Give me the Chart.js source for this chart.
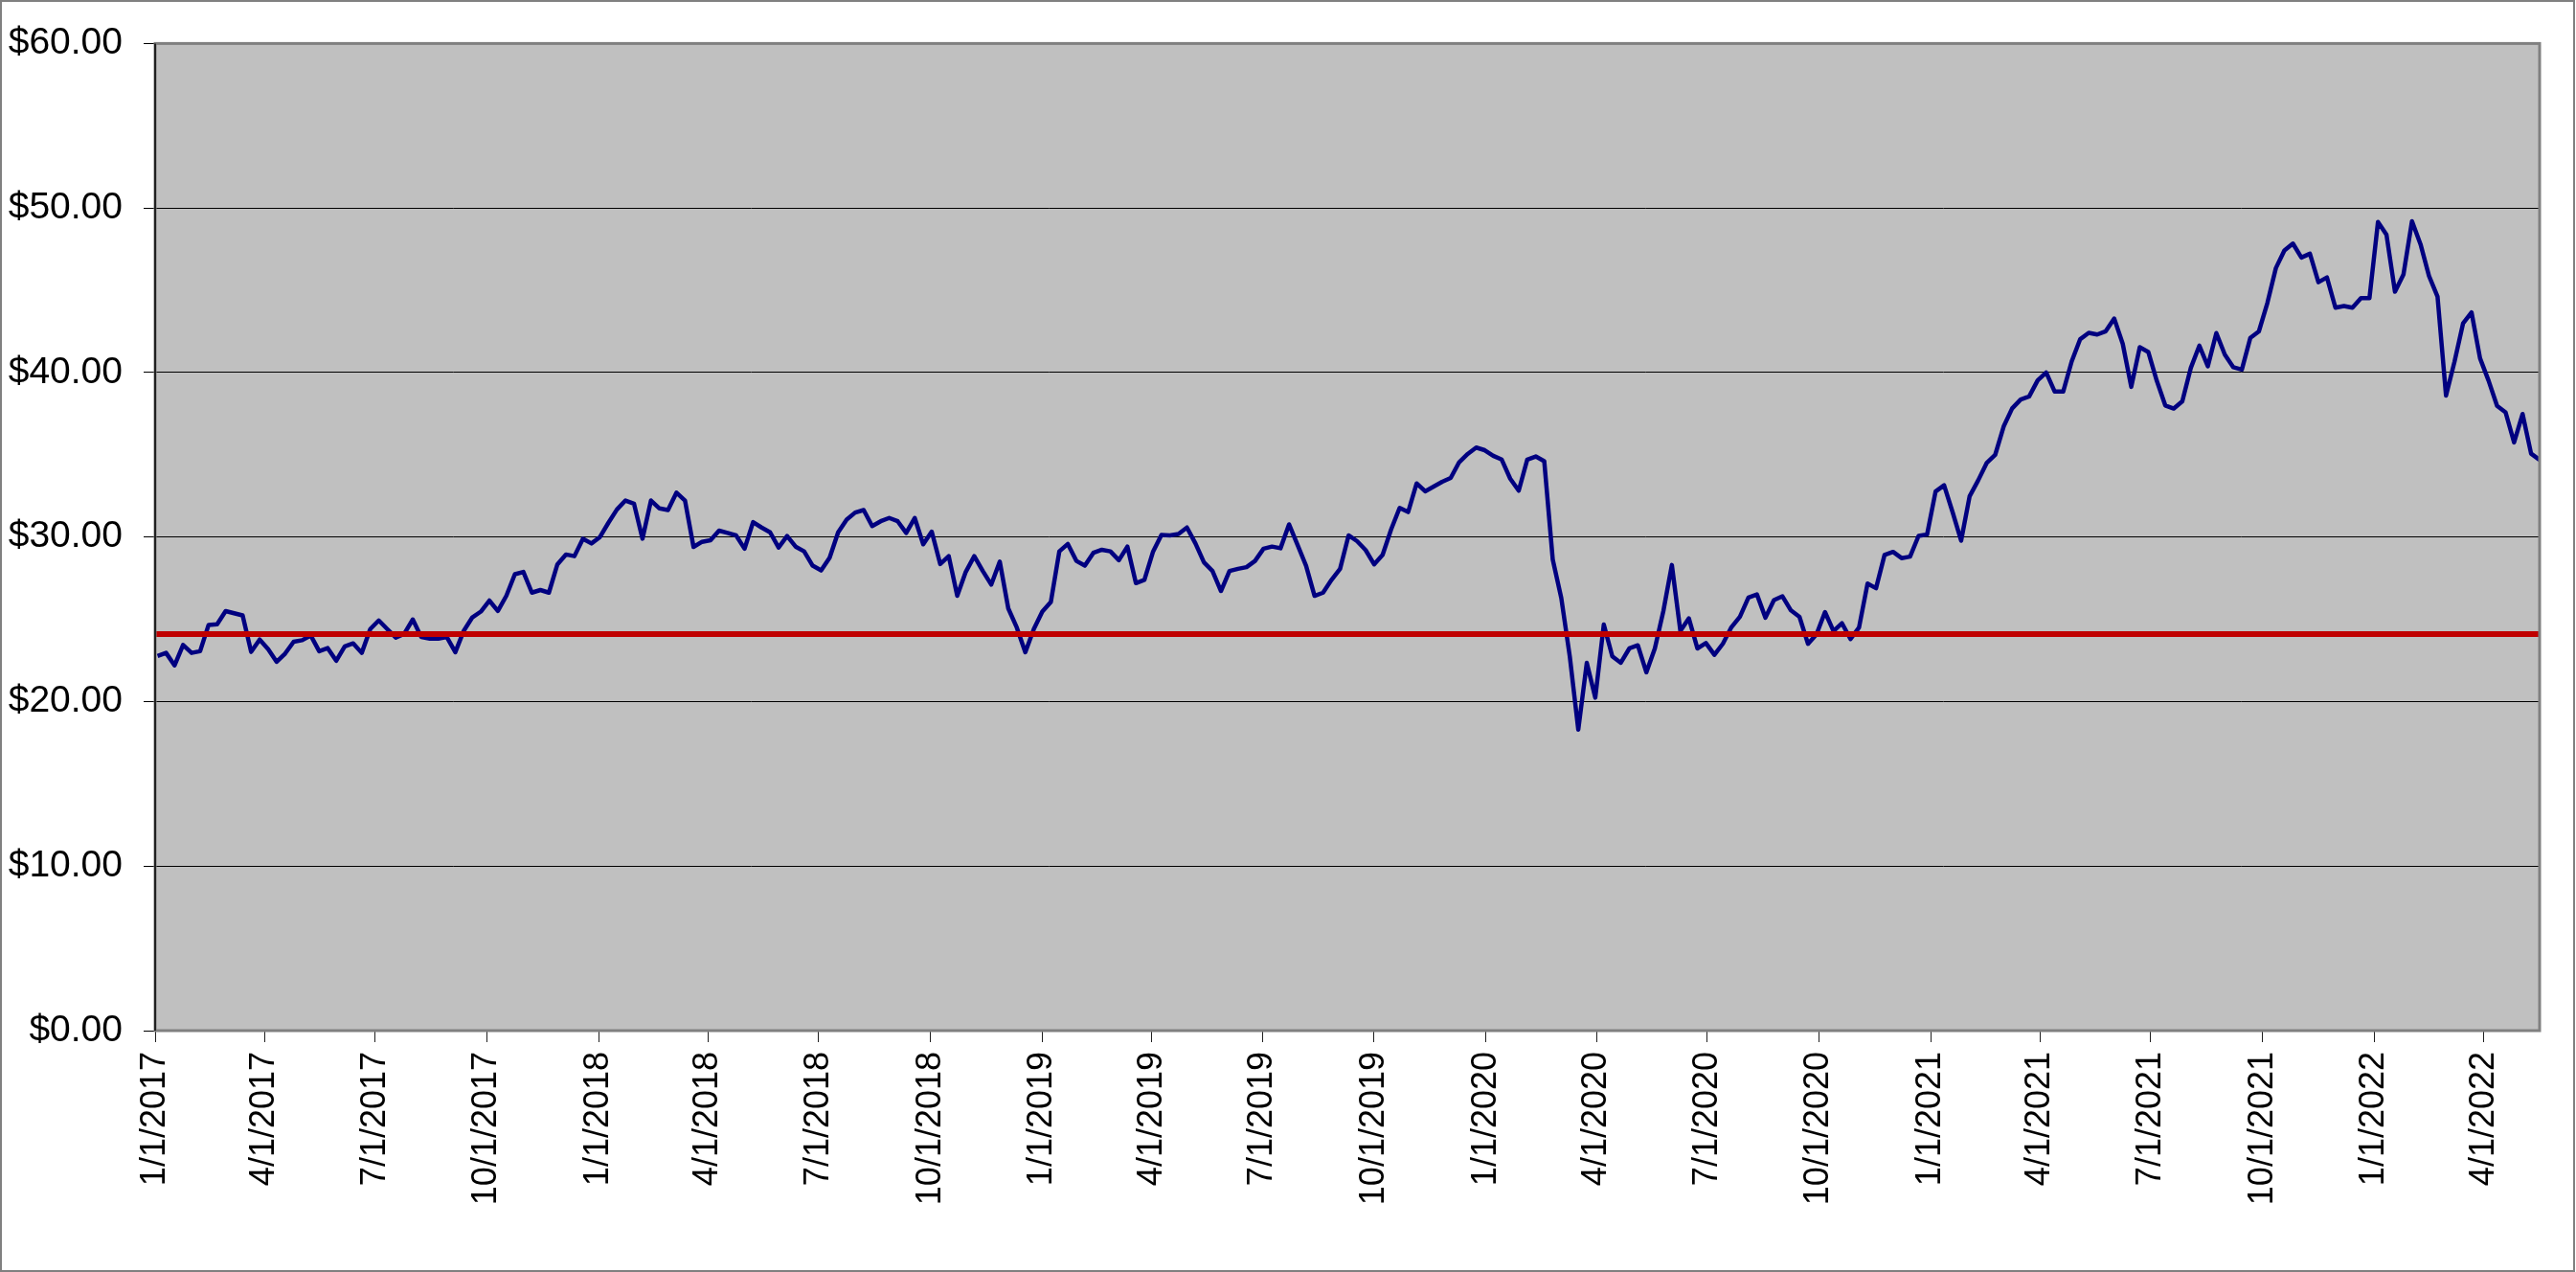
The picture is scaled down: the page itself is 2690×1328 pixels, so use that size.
<!DOCTYPE html>
<html>
<head>
<meta charset="utf-8">
<title>Share price 2017 - 2022</title>
<script src="https://cdn.jsdelivr.net/npm/chart.js@4.4.1/dist/chart.umd.min.js"></script>
<style>
  html, body { margin: 0; padding: 0; background: #fff; }
  canvas { display: block; }
</style>
</head>
<body>
<canvas id="priceChart" width="2690" height="1328"></canvas>
<script>
// Weekly closing prices, one value per week, first week starting on firstWeek
const firstWeek = '2017-01-03';

const close2017 = [
  22.77, 22.96, 22.2, 23.44, 22.96, 23.06, 24.66, 24.7, 25.5, 25.37, 25.24, 23.02, 23.77,
  23.19, 22.42, 22.92, 23.64, 23.73, 24.02, 23.06, 23.25, 22.48, 23.35, 23.54, 22.96, 24.41,
  24.93, 24.41, 23.89, 24.12, 24.99, 23.92, 23.83, 23.83, 23.92, 23.0, 24.31, 25.12, 25.47,
  26.14, 25.51, 26.43, 27.74, 27.88, 26.62, 26.78, 26.62, 28.34, 28.94, 28.84, 29.9, 29.61
];
const close2018 = [
  30.0, 30.87, 31.68, 32.22, 32.03, 29.9, 32.22, 31.74, 31.64, 32.7, 32.22, 29.4, 29.71,
  29.81, 30.39, 30.25, 30.1, 29.29, 30.91, 30.58, 30.29, 29.36, 30.06, 29.42, 29.13, 28.26,
  27.97, 28.75, 30.29, 31.06, 31.49, 31.64, 30.67, 30.96, 31.16, 30.96, 30.25, 31.16, 29.56,
  30.33, 28.36, 28.84, 26.43, 27.88, 28.84, 27.94, 27.11, 28.51, 25.66, 24.5, 23.0, 24.41
];
const close2019 = [
  25.47, 26.05, 29.13, 29.58, 28.55, 28.26, 29.04, 29.23, 29.13, 28.59, 29.42, 27.2, 27.4,
  29.09, 30.13, 30.1, 30.19, 30.58, 29.61, 28.46, 27.94, 26.72, 27.94, 28.07, 28.17, 28.55,
  29.29, 29.42, 29.32, 30.77, 29.52, 28.26, 26.43, 26.62, 27.4, 28.07, 30.1, 29.75, 29.21,
  28.34, 28.92, 30.46, 31.77, 31.52, 33.26, 32.78, 33.07, 33.36, 33.59, 34.55, 35.05, 35.44,
  35.28
];
const close2020 = [
  34.94, 34.71, 33.55, 32.82, 34.71, 34.9, 34.61, 28.63, 26.3, 22.75, 18.3, 22.36, 20.24,
  24.68, 22.75, 22.36, 23.23, 23.42, 21.78, 23.23, 25.5, 28.3, 24.29, 25.06, 23.23, 23.56,
  22.84, 23.52, 24.52, 25.16, 26.32, 26.51, 25.1, 26.17, 26.4, 25.54, 25.15, 23.51, 24.09,
  25.44, 24.28, 24.76, 23.8, 24.5, 27.17, 26.89, 28.91, 29.1, 28.72, 28.81, 30.07, 30.16
];
const close2021 = [
  32.77, 33.15, 31.51, 29.78, 32.48, 33.44, 34.5, 34.99, 36.72, 37.82, 38.36, 38.55, 39.52,
  40.0, 38.84, 38.84, 40.68, 42.03, 42.41, 42.31, 42.51, 43.28, 41.74, 39.13, 41.54, 41.25,
  39.5, 38.0, 37.81, 38.25, 40.28, 41.63, 40.38, 42.4, 41.09, 40.32, 40.18, 42.11, 42.5,
  44.23, 46.35, 47.42, 47.84, 46.99, 47.22, 45.49, 45.78, 43.94, 44.04, 43.94, 44.52, 44.52
];
const close2022 = [
  49.15, 48.38, 44.91, 45.97, 49.2, 47.8, 45.87, 44.62, 38.6, 40.67, 42.98, 43.65, 40.86,
  39.51, 37.97, 37.58, 35.75, 37.48, 35.07, 34.69
];

// Horizontal reference price (red line)
const referenceLevel = 24.1;

// Axis tick labels
const quarterLabels = [
  '1/1/2017', '4/1/2017', '7/1/2017', '10/1/2017',
  '1/1/2018', '4/1/2018', '7/1/2018', '10/1/2018',
  '1/1/2019', '4/1/2019', '7/1/2019', '10/1/2019',
  '1/1/2020', '4/1/2020', '7/1/2020', '10/1/2020',
  '1/1/2021', '4/1/2021', '7/1/2021', '10/1/2021',
  '1/1/2022', '4/1/2022'
];
const priceTicks = [0, 10, 20, 30, 40, 50, 60];

// --- date helpers (x axis is days since 1/1/2017) ---
const DAY_MS = 86400000;
const ORIGIN = Date.UTC(2017, 0, 1);

function isoToDay(s) {
  const [y, m, d] = s.split('-').map(Number);
  return Math.round((Date.UTC(y, m - 1, d) - ORIGIN) / DAY_MS);
}

function usToDay(s) {
  const [m, d, y] = s.split('/').map(Number);
  return Math.round((Date.UTC(y, m - 1, d) - ORIGIN) / DAY_MS);
}

const weeklyClose = [].concat(close2017, close2018, close2019, close2020, close2021, close2022);
const startDay = isoToDay(firstWeek);
const pricePoints = weeklyClose.map((v, i) => ({ x: startDay + 7 * i, y: v }));
const lastDay = pricePoints[pricePoints.length - 1].x;

const tickDays = quarterLabels.map(usToDay);
const labelByDay = {};
quarterLabels.forEach((lbl, i) => { labelByDay[tickDays[i]] = lbl; });

// Plot background, plot frame and outer border
const chartFrame = {
  id: 'chartFrame',
  beforeDraw(chart) {
    const { ctx, chartArea: a } = chart;
    ctx.save();
    ctx.fillStyle = '#ffffff';
    ctx.fillRect(0, 0, chart.width, chart.height);
    ctx.fillStyle = '#c0c0c0';
    ctx.fillRect(a.left, a.top, a.right - a.left, a.bottom - a.top);
    ctx.restore();
  },
  afterDraw(chart) {
    const { ctx, chartArea: a } = chart;
    ctx.save();
    // plot area frame
    ctx.strokeStyle = '#808080';
    ctx.lineWidth = 3;
    ctx.strokeRect(a.left, a.top, a.right - a.left, a.bottom - a.top);
    // value axis line
    ctx.strokeStyle = '#202020';
    ctx.lineWidth = 2;
    ctx.beginPath();
    ctx.moveTo(a.left, a.top);
    ctx.lineTo(a.left, a.bottom);
    ctx.stroke();
    // outer chart border
    ctx.strokeStyle = '#808080';
    ctx.lineWidth = 2;
    ctx.strokeRect(1, 1, chart.width - 3, chart.height - 2);
    ctx.restore();
  }
};

const fontFamily = "'Liberation Sans', Arial, sans-serif";

new Chart(document.getElementById('priceChart'), {
  type: 'line',
  data: {
    datasets: [
      {
        label: 'Reference',
        data: [{ x: 0, y: referenceLevel }, { x: lastDay, y: referenceLevel }],
        borderColor: '#c00000',
        borderWidth: 6,
        pointRadius: 0,
        fill: false,
        order: 0
      },
      {
        label: 'Close',
        data: pricePoints,
        borderColor: '#000080',
        borderWidth: 4.5,
        borderJoinStyle: 'round',
        pointRadius: 0,
        tension: 0,
        fill: false,
        order: 1
      }
    ]
  },
  options: {
    responsive: false,
    animation: false,
    devicePixelRatio: 1,
    layout: {
      padding: { left: 0, top: 39, right: 38, bottom: 0 }
    },
    plugins: {
      legend: { display: false },
      tooltip: { enabled: false }
    },
    scales: {
      x: {
        type: 'linear',
        min: 0,
        max: lastDay,
        afterFit(scale) { scale.height = 252; },
        afterBuildTicks(scale) {
          scale.ticks = tickDays.map(d => ({ value: d }));
        },
        grid: {
          drawOnChartArea: false,
          drawTicks: true,
          tickLength: 12,
          color: '#202020',
          lineWidth: 1
        },
        border: { display: false },
        ticks: {
          autoSkip: false,
          maxRotation: 90,
          minRotation: 90,
          padding: 10,
          color: '#000',
          font: { family: fontFamily, size: 36 },
          callback: value => labelByDay[value] || ''
        }
      },
      y: {
        min: 0,
        max: 60,
        afterFit(scale) { scale.width = 162; },
        afterBuildTicks(scale) {
          scale.ticks = priceTicks.map(v => ({ value: v }));
        },
        grid: {
          drawTicks: true,
          tickLength: 12,
          color: '#000',
          lineWidth: 1
        },
        border: { display: false },
        ticks: {
          padding: 22,
          color: '#000',
          font: { family: fontFamily, size: 39 },
          callback: value => '$' + Number(value).toFixed(2)
        }
      }
    }
  },
  plugins: [chartFrame]
});
</script>
</body>
</html>
